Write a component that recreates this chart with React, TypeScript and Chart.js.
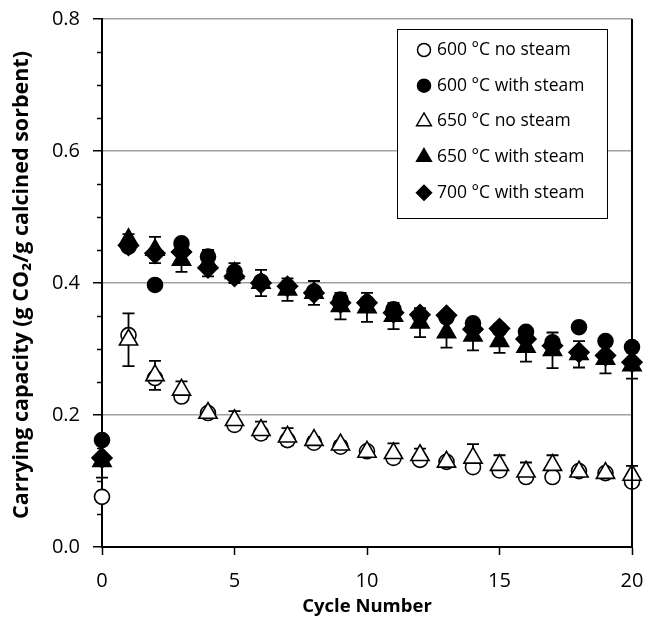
import React, { useEffect, useRef } from "react";
import { Chart, registerables } from "chart.js";
import { drawPoint } from "chart.js/helpers";

Chart.register(...registerables);

const cycles = [0, 1, 2, 3, 4, 5, 6, 7, 8, 9, 10, 11, 12, 13, 14, 15, 16, 17, 18, 19, 20];

const noSteam600 = [0.076, 0.321, 0.256, 0.228, 0.203, 0.185, 0.172, 0.162, 0.158, 0.152, 0.145, 0.135, 0.132, 0.129, 0.121, 0.116, 0.106, 0.106, 0.115, 0.112, 0.099];
const steam600 = [0.162, 0.455, 0.397, 0.46, 0.44, 0.417, 0.402, 0.395, 0.387, 0.375, 0.37, 0.36, 0.35, 0.348, 0.339, 0.33, 0.326, 0.31, 0.333, 0.312, 0.303];
const noSteam650 = [null, 0.314, 0.26, 0.238, 0.203, 0.192, 0.177, 0.167, 0.162, 0.155, 0.144, 0.142, 0.139, 0.129, 0.135, 0.124, 0.114, 0.124, 0.114, 0.112, 0.109];
const noSteam650Err = [0, 0.04, 0.022, 0.013, 0.005, 0.014, 0.013, 0.013, 0.005, 0.005, 0.005, 0.015, 0.01, 0.005, 0.021, 0.015, 0.014, 0.015, 0.005, 0.005, 0.014];
const steam650 = [0.13, 0.466, 0.45, 0.435, 0.43, 0.415, 0.4, 0.39, 0.385, 0.365, 0.363, 0.35, 0.34, 0.325, 0.32, 0.312, 0.303, 0.298, 0.292, 0.285, 0.275];
const steam650Err = [0.025, 0.008, 0.02, 0.018, 0.02, 0.015, 0.02, 0.017, 0.018, 0.02, 0.022, 0.02, 0.022, 0.023, 0.022, 0.018, 0.022, 0.027, 0.02, 0.022, 0.02];
const steam700 = [0.135, 0.457, 0.445, 0.447, 0.423, 0.41, 0.4, 0.395, 0.385, 0.37, 0.37, 0.355, 0.352, 0.351, 0.33, 0.331, 0.315, 0.305, 0.295, 0.29, 0.28];

const seriesLabels = ["600 °C no steam", "600 °C with steam", "650 °C no steam", "650 °C with steam", "700 °C with steam"];
const xTitle = "Cycle Number";
const yTitle = "Carrying capacity (g CO\u2082/g calcined sorbent)";

const FONT = '"Open Sans", Lato, sans-serif';

const toPoints = (vals: (number | null)[]) =>
  cycles.map((c, i) => ({ x: c, y: vals[i] })).filter((p) => p.y !== null);

type Style = { pointStyle: string; radius: number; fill: string; legendRadius: number };
const styles: Style[] = [
  { pointStyle: "circle", radius: 7.5, fill: "#ffffff", legendRadius: 6.5 },
  { pointStyle: "circle", radius: 7.5, fill: "#000000", legendRadius: 6.5 },
  { pointStyle: "triangle", radius: 10.5, fill: "#ffffff", legendRadius: 8.5 },
  { pointStyle: "triangle", radius: 10.5, fill: "#000000", legendRadius: 8.5 },
  { pointStyle: "rectRot", radius: 10, fill: "#000000", legendRadius: 7.5 },
];

const errorSets = [
  { values: noSteam650, errs: noSteam650Err },
  { values: steam650, errs: steam650Err },
];

const zeroPad = (s: any) => {
  s.paddingLeft = 0;
  s.paddingRight = 0;
  s.paddingTop = 0;
  s.paddingBottom = 0;
};

const errorBarPlugin = {
  id: "errorBars",
  beforeDatasetsDraw(chart: any) {
    const { ctx, scales } = chart;
    const xs = scales.x, ys = scales.y;
    ctx.save();
    ctx.strokeStyle = "#000";
    ctx.lineWidth = 1.8;
    errorSets.forEach((s) => {
      s.values.forEach((v, i) => {
        if (v === null) return;
        const e = s.errs[i];
        if (!e) return;
        const px = xs.getPixelForValue(cycles[i]);
        const t = ys.getPixelForValue(v + e);
        const b = ys.getPixelForValue(v - e);
        ctx.beginPath();
        ctx.moveTo(px, t);
        ctx.lineTo(px, b);
        ctx.moveTo(px - 6, t);
        ctx.lineTo(px + 6, t);
        ctx.moveTo(px - 6, b);
        ctx.lineTo(px + 6, b);
        ctx.stroke();
      });
    });
    ctx.restore();
  },
};

const decorPlugin = {
  id: "decor",
  afterDraw(chart: any) {
    const { ctx, chartArea, scales } = chart;
    const ys = scales.y;
    ctx.save();
    // minor ticks on y axis
    ctx.strokeStyle = "#000";
    ctx.lineWidth = 1.5;
    for (let i = 0; i <= 16; i++) {
      if (i % 4 === 0) continue;
      const py = Math.round(ys.getPixelForValue(i * 0.05)) + 0.5;
      ctx.beginPath();
      ctx.moveTo(chartArea.left - 5, py);
      ctx.lineTo(chartArea.left, py);
      ctx.stroke();
    }
    // right border
    ctx.lineWidth = 2;
    ctx.beginPath();
    ctx.moveTo(chartArea.right, chartArea.top);
    ctx.lineTo(chartArea.right, chartArea.bottom);
    ctx.stroke();

    // axis titles
    ctx.fillStyle = "#000";
    ctx.textAlign = "center";
    ctx.textBaseline = "middle";
    ctx.font = `bold 18.5px ${FONT}`;
    ctx.fillText(xTitle, (chartArea.left + chartArea.right) / 2, 607);
    ctx.save();
    ctx.font = `bold 21.5px ${FONT}`;
    ctx.translate(22, (chartArea.top + chartArea.bottom) / 2 + 2);
    ctx.rotate(-Math.PI / 2);
    ctx.fillText(yTitle, 0, 0);
    ctx.restore();

    // legend
    const lx = 397, ly = 29, lw = 210, lh = 189;
    ctx.fillStyle = "#fff";
    ctx.fillRect(lx, ly, lw, lh);
    ctx.strokeStyle = "#000";
    ctx.lineWidth = 1;
    ctx.strokeRect(lx + 0.5, ly + 0.5, lw, lh);
    ctx.font = `17.5px ${FONT}`;
    ctx.textAlign = "left";
    ctx.textBaseline = "middle";
    seriesLabels.forEach((lab, i) => {
      const cy = ly + 21 + i * 35.7;
      const st = styles[i];
      ctx.fillStyle = st.fill;
      ctx.strokeStyle = "#000";
      ctx.lineWidth = 1.5;
      drawPoint(ctx, { pointStyle: st.pointStyle as any, radius: st.legendRadius, rotation: 0, borderWidth: 1.5 }, lx + 27, cy);
      ctx.fillStyle = "#000";
      ctx.fillText(lab, lx + 40, cy);
    });
    ctx.restore();
  },
};

export default function App() {
  const ref = useRef<HTMLCanvasElement | null>(null);
  useEffect(() => {
    if (!ref.current) return;
    const allSeries = [noSteam600, steam600, noSteam650, steam650, steam700];
    const orders = [5, 4, 3, 2, 1];
    const chart = new Chart(ref.current, {
      type: "scatter",
      data: {
        datasets: allSeries.map((vals, i) => ({
          label: seriesLabels[i],
          data: toPoints(vals),
          showLine: false,
          clip: false,
          order: orders[i],
          pointStyle: styles[i].pointStyle as any,
          pointRadius: styles[i].radius,
          pointHoverRadius: styles[i].radius,
          pointBackgroundColor: styles[i].fill,
          pointBorderColor: "#000",
          pointBorderWidth: 1.6,
        })),
      },
      options: {
        animation: false,
        responsive: false,
        events: [],
        layout: { padding: { top: 19, right: 13, left: 0, bottom: 0 } },
        plugins: { legend: { display: false }, tooltip: { enabled: false } },
        scales: {
          x: {
            type: "linear",
            min: 0,
            max: 20,
            afterFit: (s: any) => { s.height = 88; zeroPad(s); },
            ticks: { stepSize: 5, color: "#000", font: { family: FONT, size: 20 }, padding: 14, maxRotation: 0 },
            grid: { drawOnChartArea: false, drawTicks: true, tickLength: 8, tickColor: "#000", tickWidth: 1.5 },
            border: { color: "#000", width: 2 },
          },
          y: {
            type: "linear",
            min: 0,
            max: 0.8,
            afterFit: (s: any) => { s.width = 102; zeroPad(s); },
            ticks: { stepSize: 0.2, color: "#000", font: { family: FONT, size: 20 }, padding: 13, callback: (v: any) => Number(v).toFixed(1) },
            grid: { color: "#a0a0a0", lineWidth: 1.5, drawTicks: true, tickLength: 9, tickColor: "#000", tickWidth: 1.5 },
            border: { color: "#000", width: 2 },
          },
        },
      },
      plugins: [errorBarPlugin, decorPlugin],
    });
    return () => chart.destroy();
  }, []);
  return (
    <div style={{ position: "fixed", left: 0, top: 0, width: 645, height: 635, background: "#fff" }}>
      <canvas ref={ref} width={645} height={635} />
    </div>
  );
}
